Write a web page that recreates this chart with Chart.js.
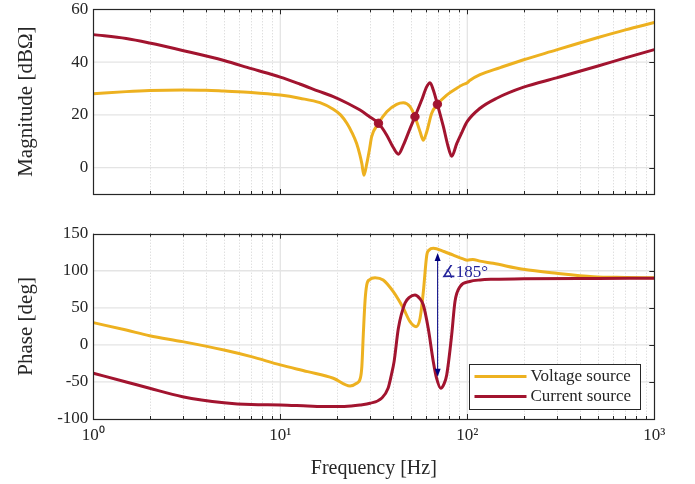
<!DOCTYPE html>
<html><head><meta charset="utf-8">
<script src="https://cdn.jsdelivr.net/npm/chart.js@4/dist/chart.umd.min.js"></script>
<style>
html,body{margin:0;padding:0;background:#fff;}
#wrap{position:relative;width:695px;height:484px;overflow:hidden;background:#fff;}
canvas{position:absolute;left:0;}
</style></head><body>
<div id="wrap">
<canvas id="mag" width="695" height="213" style="top:-5px"></canvas>
<canvas id="ph" width="695" height="269" style="top:215px"></canvas>
</div>
<script>
// ---------------- data ----------------
const seriesNames = ['Voltage source', 'Current source'];
const seriesColors = ['#EDB120', '#A2142F'];

const xTickValues = [1, 10, 100, 1000];
const xTickLabels = ['10⁰', '10¹', '10²', '10³'];
const magTicks = [0, 20, 40, 60];
const phaseTicks = [-100, -50, 0, 50, 100, 150];

const magVoltFreq = [1, 1.5, 2, 3, 4, 5, 7, 10, 12.7, 16.3, 19.2, 21, 22.7, 24.2, 25.6, 26.6, 27.3, 28.0, 29.0, 30.0, 30.8, 33.5, 37.1, 41.9, 45.5, 49.4, 52.5, 55.9, 58.2, 60.7, 64.5, 69.2, 77.6, 87.8, 95, 100, 103, 117, 150, 200, 300, 500, 700, 1000];
const magVoltDb   = [28.0, 28.8, 29.2, 29.4, 29.3, 29.0, 28.5, 27.5, 26.3, 24.6, 22.1, 20.0, 16.8, 13.2, 9.1, 5.0, 1.5, -2.9, 1.5, 7.0, 11.7, 16.8, 21.2, 24.0, 24.6, 23.1, 19.3, 13.6, 10.4, 13.6, 20.6, 24.0, 27.5, 30.1, 31.5, 32.2, 33.0, 35.2, 37.9, 40.9, 44.6, 49.3, 52.2, 55.0];

const magCurrFreq = [1, 1.5, 2, 3, 5, 7, 10, 12.7, 16, 19.2, 23, 26.7, 30, 33.5, 37.1, 40.2, 42.8, 45.5, 49.4, 52.5, 57.0, 60.7, 63.2, 65.8, 69.2, 74.5, 79.1, 82.5, 87.8, 93, 100, 117, 143.6, 200, 300, 500, 700, 1000];
const magCurrDb   = [50.4, 48.9, 47.2, 44.4, 40.6, 37.5, 34.3, 31.7, 29.0, 26.9, 24.3, 21.8, 19.3, 16.8, 12.3, 7.6, 5.1, 8.5, 14.8, 19.3, 25.6, 30.7, 32.2, 29.4, 24.0, 15.5, 7.8, 4.3, 9.1, 13.0, 17.5, 22.5, 26.3, 30.5, 34.0, 38.5, 41.6, 44.7];

const phaseVoltFreq = [1, 1.5, 2, 3, 5, 7, 10, 14, 19.2, 23.6, 25.6, 26.8, 27.3, 27.8, 28.4, 29.0, 30.0, 32.1, 35.5, 40.2, 45.5, 49.4, 53.2, 55.9, 58.2, 60.7, 62.5, 65.8, 75, 84.2, 95, 100, 107, 117, 137.6, 199, 300, 472, 700, 1000];
const phaseVoltDeg  = [30, 20, 12.4, 4.4, -6.9, -15.9, -27, -36.1, -45, -55.4, -51.8, -45, -29, 15, 60, 81, 88, 90.7, 87.6, 71.8, 49.4, 31.3, 24.6, 35.9, 71.8, 121, 128, 130.3, 126, 121, 116, 114.3, 115.3, 113, 110, 102, 96.6, 92, 91, 90.5];

const phaseCurrFreq = [1, 1.5, 2, 3, 5, 7, 10, 14, 17.7, 22, 26.7, 30.2, 34.8, 37.7, 39.3, 40.6, 42.8, 46.4, 49, 52.5, 55.5, 58.2, 61.8, 65.8, 68.5, 72.1, 75, 77.6, 82.5, 85.9, 91.4, 103, 117, 137.6, 200, 500, 1000];
const phaseCurrDeg  = [-38.3, -50, -58.6, -69.9, -78, -80.5, -81, -82.5, -83.3, -83, -81, -78.8, -72, -58.6, -40, -22.6, 22.4, 56.1, 64, 67.3, 63, 53.8, 22.4, -22.6, -45, -58.6, -53, -40.6, 13.4, 58.3, 78.5, 85.5, 87.6, 88.5, 89.3, 89.7, 89.8];

const crossFreq = [33.5, 52.5, 69.2];
const crossMag  = [16.8, 19.3, 24.0];

const annotFreq = 69.4;
const annotTop = 124;
const annotBottom = -43;
const annotLabelPhase = 98;
const annotText = '∡185°';

// ---------------- helpers ----------------
const pts = (xs, ys) => xs.map((v, i) => ({x: v, y: ys[i]}));
const FONT = "'Liberation Serif', 'Times New Roman', serif";
const INK = '#262626';
Chart.defaults.font.family = FONT;
Chart.defaults.color = INK;

function framePlugin(yTicks) {
  return {
    id: 'frame',
    beforeDatasetsDraw(chart) {
      const {ctx, chartArea: a, scales: {x, y}} = chart;
      ctx.save();
      ctx.strokeStyle = '#d2d2d2'; ctx.lineWidth = 1; ctx.setLineDash([1, 2]);
      for (const d of [1, 10, 100]) {
        for (let m = 2; m <= 9; m++) {
          const px = Math.round(x.getPixelForValue(d * m)) + 0.5;
          ctx.beginPath(); ctx.moveTo(px, a.top); ctx.lineTo(px, a.bottom); ctx.stroke();
        }
      }
      ctx.setLineDash([]);
      ctx.strokeStyle = '#e4e4e4'; ctx.lineWidth = 1.3;
      for (const d of xTickValues) {
        const px = x.getPixelForValue(d);
        if (px <= a.left + 1 || px >= a.right - 1) continue;
        ctx.beginPath(); ctx.moveTo(px, a.top); ctx.lineTo(px, a.bottom); ctx.stroke();
      }
      for (const v of yTicks) {
        const py = y.getPixelForValue(v);
        if (py <= a.top + 1 || py >= a.bottom - 1) continue;
        ctx.beginPath(); ctx.moveTo(a.left, py); ctx.lineTo(a.right, py); ctx.stroke();
      }
      ctx.restore();
    },
    afterDatasetsDraw(chart) {
      const {ctx, chartArea: a, scales: {x, y}} = chart;
      ctx.save();
      ctx.strokeStyle = INK; ctx.lineWidth = 1;
      for (const d of [1, 10, 100]) {
        for (let m = 1; m <= 9; m++) {
          const px = Math.round(x.getPixelForValue(d * m)) + 0.5;
          const len = m === 1 ? 5 : 3;
          ctx.beginPath();
          ctx.moveTo(px, a.bottom); ctx.lineTo(px, a.bottom - len);
          ctx.moveTo(px, a.top); ctx.lineTo(px, a.top + len);
          ctx.stroke();
        }
      }
      for (const v of yTicks) {
        const py = Math.round(y.getPixelForValue(v)) + 0.5;
        ctx.beginPath(); ctx.moveTo(a.right, py); ctx.lineTo(a.right - 5, py); ctx.stroke();
      }
      ctx.lineWidth = 1.2;
      ctx.strokeRect(Math.round(a.left) + 0.5, Math.round(a.top) + 0.5, Math.round(a.width), Math.round(a.height));
      ctx.restore();
    }
  };
}

const annotPlugin = {
  id: 'annot',
  afterDatasetsDraw(chart) {
    const {ctx, scales: {x, y}} = chart;
    const px = x.getPixelForValue(annotFreq);
    const y1 = y.getPixelForValue(annotTop);
    const y2 = y.getPixelForValue(annotBottom);
    ctx.save();
    ctx.strokeStyle = '#000080'; ctx.fillStyle = '#000080'; ctx.lineWidth = 1;
    ctx.beginPath(); ctx.moveTo(px, y1 + 4); ctx.lineTo(px, y2 - 4); ctx.stroke();
    ctx.beginPath(); ctx.moveTo(px, y1); ctx.lineTo(px - 3, y1 + 8); ctx.lineTo(px + 3, y1 + 8); ctx.closePath(); ctx.fill();
    ctx.beginPath(); ctx.moveTo(px, y2); ctx.lineTo(px - 3, y2 - 8); ctx.lineTo(px + 3, y2 - 8); ctx.closePath(); ctx.fill();
    ctx.fillStyle = '#22229a';
    ctx.font = "17px " + FONT;
    ctx.textBaseline = 'middle'; ctx.textAlign = 'left';
    ctx.fillText(annotText, px + 3, y.getPixelForValue(annotLabelPhase));
    ctx.restore();
  }
};

const legendPlugin = {
  id: 'boxLegend',
  afterDraw(chart) {
    const {ctx, chartArea: a} = chart;
    const w = 171, h = 45;
    const bx = Math.round(a.right - 14 - w) + 0.5, by = Math.round(a.bottom - 10 - h) + 0.5;
    ctx.save();
    ctx.fillStyle = '#fff'; ctx.fillRect(bx, by, w, h);
    ctx.strokeStyle = INK; ctx.lineWidth = 1; ctx.strokeRect(bx, by, w, h);
    ctx.font = "17px " + FONT; ctx.textBaseline = 'middle'; ctx.textAlign = 'left';
    seriesNames.forEach((name, i) => {
      const ry = by + 12 + i * 20;
      ctx.strokeStyle = chart.data.datasets[i].borderColor; ctx.lineWidth = 3;
      ctx.beginPath(); ctx.moveTo(bx + 5, ry); ctx.lineTo(bx + 57, ry); ctx.stroke();
      ctx.fillStyle = INK; ctx.fillText(name, bx + 61, ry);
    });
    ctx.restore();
  }
};

const lineDs = (label, data, color, order) => ({
  label, data, borderColor: color, backgroundColor: color, borderWidth: 3,
  pointRadius: 0, fill: false, cubicInterpolationMode: 'monotone', order
});

const xScale = (showLabels, h) => ({
  type: 'logarithmic', min: 1, max: 1000,
  afterBuildTicks: s => { s.ticks = xTickValues.map(v => ({value: v})); },
  ticks: {display: showLabels, color: INK, font: {size: 17, lineHeight: 1}, padding: 8, maxRotation: 0,
          callback: v => xTickLabels[xTickValues.indexOf(v)] ?? ''},
  grid: {display: false, drawTicks: false}, border: {display: false},
  title: {display: showLabels, text: 'Frequency [Hz]', color: INK, font: {size: 20}, padding: {top: 0, bottom: 3}},
  afterFit: s => { s.height = h; }
});

const yScale = (min, max, ticks, title) => ({
  type: 'linear', min, max,
  afterBuildTicks: s => { s.ticks = ticks.map(v => ({value: v})); },
  ticks: {color: INK, font: {size: 17, lineHeight: 1}, padding: 5},
  grid: {display: false, drawTicks: false}, border: {display: false},
  title: {display: true, text: title, color: INK, font: {size: 21}, padding: {top: 14, bottom: 0}},
  afterFit: s => { s.width = 93.3; }
});

new Chart(document.getElementById('mag'), {
  type: 'line',
  data: {datasets: [
    lineDs(seriesNames[0], pts(magVoltFreq, magVoltDb), seriesColors[0], 2),
    lineDs(seriesNames[1], pts(magCurrFreq, magCurrDb), seriesColors[1], 1),
    {label: 'crossings', data: pts(crossFreq, crossMag), showLine: false, pointRadius: 4.2,
     pointBackgroundColor: seriesColors[1], pointBorderColor: seriesColors[1], borderColor: seriesColors[1], order: 0}
  ]},
  options: {
    responsive: false, animation: false, events: [],
    layout: {padding: {left: 0, right: 40.7, top: 14.3, bottom: 0}},
    plugins: {legend: {display: false}, tooltip: {enabled: false}},
    scales: {x: xScale(false, 14), y: yScale(-10, 60, magTicks, 'Magnitude [dBΩ]')}
  },
  plugins: [framePlugin(magTicks)]
});

new Chart(document.getElementById('ph'), {
  type: 'line',
  data: {datasets: [
    lineDs(seriesNames[0], pts(phaseVoltFreq, phaseVoltDeg), seriesColors[0], 2),
    lineDs(seriesNames[1], pts(phaseCurrFreq, phaseCurrDeg), seriesColors[1], 1)
  ]},
  options: {
    responsive: false, animation: false, events: [],
    layout: {padding: {left: 0, right: 40.7, top: 18.7, bottom: 0}},
    plugins: {legend: {display: false}, tooltip: {enabled: false}},
    scales: {x: xScale(true, 65), y: yScale(-100, 150, phaseTicks, 'Phase [deg]')}
  },
  plugins: [framePlugin(phaseTicks), annotPlugin, legendPlugin]
});
</script>
</body></html>
